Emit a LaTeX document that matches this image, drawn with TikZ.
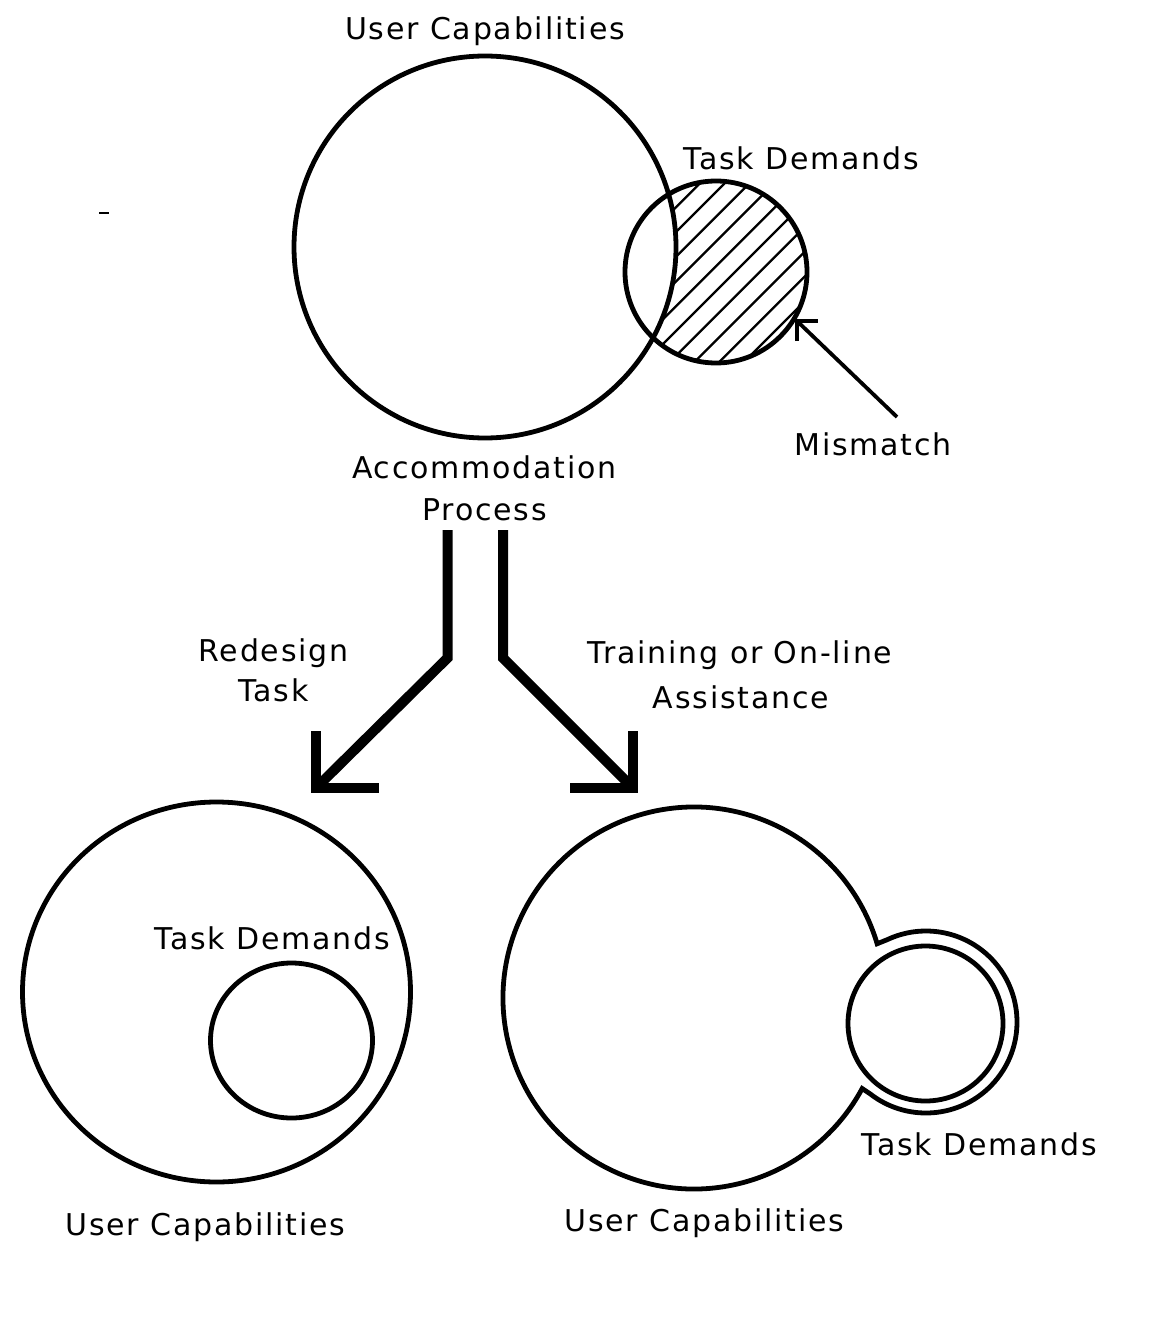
\documentclass[tikz,border=0pt]{standalone}
\usepackage{fontspec}
\setmainfont{DejaVu Sans}[LetterSpace=6]
\usetikzlibrary{calc}
\begin{document}
\begin{tikzpicture}[x=1pt,y=1pt,
  lbl/.style={anchor=base, inner sep=0pt, font=\fontsize{30}{36}\selectfont},
  outline/.style={line width=4.8pt},
  hatch/.style={line width=2.3pt},
  bigarrow/.style={line width=10pt, line join=miter}]
\useasboundingbox[fill=white] (0,0) rectangle (1172,-1321);

% ---------- top: mismatch ----------
\coordinate (UC1c) at (485,-247);
\coordinate (TD1c) at (716,-272);
\begin{scope}
  \clip (TD1c) circle (91);
  \foreach \k in {-7,...,7}
    \draw[hatch] ($(TD1c)+({-sin(45)*(\k*17.5+4)},{cos(45)*(\k*17.5+4)})+(45:-150)$) -- ++(45:300);
  \fill[white] (UC1c) circle (191);
\end{scope}
\draw[outline] (UC1c) circle (191);
\draw[outline] (TD1c) circle (91);

\node[lbl] (uc1l) at (485,-40) {User Capabilities};
\node[lbl] (td1l) at (801.5,-170) {Task Demands};
\node[lbl] (mm) at (873,-455) {Mismatch};

\coordinate (mmtail) at (897,-417);
\coordinate (mmtip) at (797,-321);
\draw[line width=3.8pt] (mmtail) -- (mmtip);
\draw[line width=3.8pt, line join=miter] ([yshift=-20pt]mmtip) -- (mmtip) -- ([xshift=21pt]mmtip);

% stray dash
\draw[line width=1.5pt] (99,-213) -- (109,-213);

% ---------- accommodation process ----------
\node[lbl] (acc1) at (484.5,-478) {Accommodation};
\node[lbl] (acc2) at (484.5,-520) {Process};

\coordinate (Lstart) at (447.5,-530);
\coordinate (Lbend) at (447.5,-658);
\coordinate (Ltip) at (318,-786);
\draw[bigarrow] (Lstart) -- (Lbend) -- (Ltip);
\draw[bigarrow] (315.5,-731) -- (315.5,-788) -- (379,-788);

\coordinate (Rstart) at (503,-530);
\coordinate (Rbend) at (503,-658);
\coordinate (Rtip) at (631,-786);
\draw[bigarrow] (Rstart) -- (Rbend) -- (Rtip);
\draw[bigarrow] (633,-731) -- (633,-788) -- (570,-788);

\node[lbl] (rd1) at (273.5,-661) {Redesign};
\node[lbl] (rd2) at (273.5,-701) {Task};
\node[lbl] (tr1) at (740,-663) {Training or On-line};
\node[lbl] (tr2) at (741,-708) {Assistance};

% ---------- bottom left ----------
\draw[outline] (216.5,-992) ellipse (194 and 190);
\draw[outline] (291.5,-1040.5) ellipse (81 and 77.5);
\node[lbl] (td2l) at (272.5,-949) {Task Demands};
\node[lbl] (uc2l) at (205.5,-1235) {User Capabilities};

% ---------- bottom right ----------
\coordinate (UC3c) at (694,-998);
\coordinate (R3c) at (926,-1022);
\draw[outline, line join=miter] ($(UC3c)+(16.5:191)$)
  arc[start angle=16.5, end angle=331.7, radius=191]
  -- ($(R3c)+(232:91)$)
  arc[start angle=232, end angle=475, radius=91] -- cycle;
\draw[outline] (925.5,-1023.5) circle (77.5);
\node[lbl] (td3l) at (979.5,-1155) {Task Demands};
\node[lbl] (uc3l) at (704.5,-1231) {User Capabilities};
\end{tikzpicture}
\end{document}
